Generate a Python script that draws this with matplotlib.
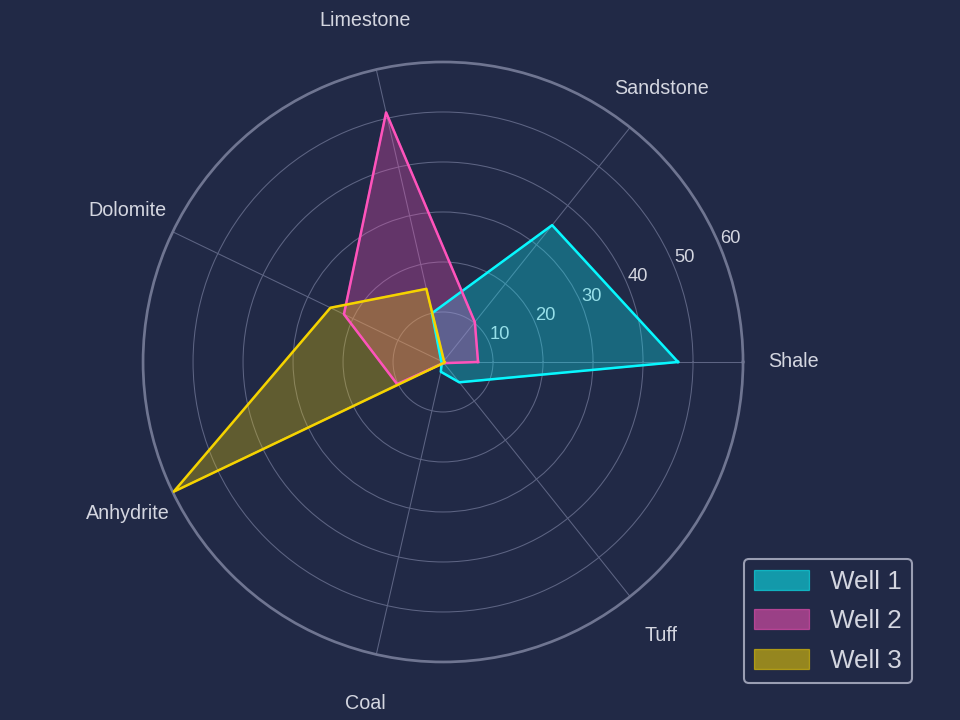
import numpy as np
import matplotlib.pyplot as plt
from matplotlib.patches import Patch

plt.rcParams["font.family"] = ["Liberation Sans", "DejaVu Sans"]

# lithology share per well (%)
categories = ['Shale', 'Sandstone', 'Limestone', 'Dolomite', 'Anhydrite', 'Coal', 'Tuff']
well_1 = [47, 35, 10, 0.4, 0.3, 2, 5.2]
well_2 = [7, 10.2, 51.2, 22, 10.2, 0.3, 0.3]
well_3 = [0.3, 0.3, 15, 25, 59.8, 0.3, 0.3]
wells = ['Well 1', 'Well 2', 'Well 3']
r_ticks = [10, 20, 30, 40, 50, 60]

bg = '#212946'
text_col = '#d4d6e0'
colors = ['#08F7FE', '#FE53BB', '#F5D300']

angles = np.linspace(0, 2 * np.pi, len(categories), endpoint=False)
closed = np.concatenate([angles, angles[:1]])

fig = plt.figure(figsize=(6.4, 4.8), dpi=150, facecolor=bg)
ax = fig.add_axes([0.149, 0.0806, 0.625, 0.8333], polar=True)
ax.set_facecolor(bg)

handles = []
for name, vals, c in zip(wells, [well_1, well_2, well_3], colors):
    v = np.concatenate([vals, vals[:1]])
    ax.fill(closed, v, color=c, alpha=0.3, zorder=2)
    ax.plot(closed, v, color=c, linewidth=1.2, zorder=3)
    handles.append(Patch(facecolor=c, edgecolor=c, linewidth=0.6, alpha=0.55, label=name))

ax.set_ylim(0, 60)
ax.set_yticks(r_ticks)
ax.set_yticklabels([str(t) for t in r_ticks], color=text_col, fontsize=8.8)
ax.set_xticks(angles)
ax.set_xticklabels(categories, color=text_col, fontsize=9.5)
ax.tick_params(axis='x', pad=13.5)
ax.grid(color='#5d6483', linewidth=0.5)
ax.spines['polar'].set_color('#6f7591')
ax.spines['polar'].set_linewidth(1.3)

leg = fig.legend(handles=handles, loc='lower right', bbox_to_anchor=(0.95, 0.051),
                 fontsize=12.5, frameon=True, handlelength=2.1, handleheight=0.8,
                 handletextpad=0.8, labelspacing=0.6, borderaxespad=0)
leg.get_frame().set_facecolor(bg)
leg.get_frame().set_edgecolor('#9a9eb3')
leg.get_frame().set_alpha(1)
for t in leg.get_texts():
    t.set_color(text_col)

fig.savefig('out.png', dpi=150, facecolor=bg)
